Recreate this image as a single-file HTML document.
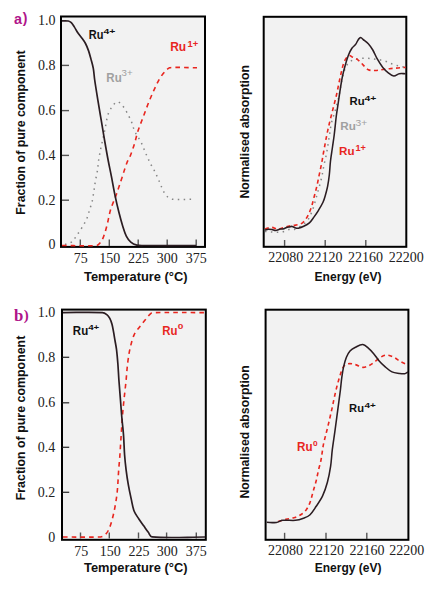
<!DOCTYPE html>
<html><head><meta charset="utf-8"><style>
html,body{margin:0;padding:0;background:#fff;}
svg{display:block;}
.n{font-family:"Liberation Serif",serif;font-size:14px;fill:#222;}
.yt{font-family:"Liberation Sans",sans-serif;font-weight:bold;font-size:12.6px;fill:#111;}
.t{font-family:"Liberation Sans",sans-serif;font-weight:bold;font-size:12.5px;fill:#111;}
.ru{font-family:"Liberation Sans",sans-serif;font-weight:bold;font-size:12.5px;}
.sup{font-size:8.5px;}
.lab{font-family:"Liberation Sans",sans-serif;font-weight:bold;font-size:14.4px;fill:#b0148a;}
.lab2{font-family:"Liberation Serif",serif;font-weight:bold;font-size:16.8px;fill:#b0148a;}
</style></head><body>
<svg width="439" height="590" viewBox="0 0 439 590">
<rect width="439" height="590" fill="#fff"/>
<rect x="61.0" y="16.5" width="144.0" height="230.4" fill="#f2f2f2" stroke="#000" stroke-width="2"/>
<line x1="62.0" y1="65.4" x2="69.0" y2="65.4" stroke="#555" stroke-width="1.4"/>
<line x1="62.0" y1="110.6" x2="69.0" y2="110.6" stroke="#555" stroke-width="1.4"/>
<line x1="62.0" y1="155.4" x2="69.0" y2="155.4" stroke="#555" stroke-width="1.4"/>
<line x1="62.0" y1="200.2" x2="69.0" y2="200.2" stroke="#555" stroke-width="1.4"/>
<line x1="80.3" y1="239.5" x2="80.3" y2="246.0" stroke="#555" stroke-width="1.4"/>
<line x1="109.3" y1="239.5" x2="109.3" y2="246.0" stroke="#555" stroke-width="1.4"/>
<line x1="138.2" y1="239.5" x2="138.2" y2="246.0" stroke="#555" stroke-width="1.4"/>
<line x1="167.2" y1="239.5" x2="167.2" y2="246.0" stroke="#555" stroke-width="1.4"/>
<line x1="196.2" y1="239.5" x2="196.2" y2="246.0" stroke="#555" stroke-width="1.4"/>
<text x="55.5" y="24.8" text-anchor="end" class="n">1.0</text>
<text x="55.5" y="69.7" text-anchor="end" class="n">0.8</text>
<text x="55.5" y="114.9" text-anchor="end" class="n">0.6</text>
<text x="55.5" y="159.7" text-anchor="end" class="n">0.4</text>
<text x="55.5" y="204.5" text-anchor="end" class="n">0.2</text>
<text x="55.5" y="249.4" text-anchor="end" class="n">0</text>
<text x="80.8" y="263.0" text-anchor="middle" class="n">75</text>
<text x="109.7" y="263.0" text-anchor="middle" class="n">150</text>
<text x="138.4" y="263.0" text-anchor="middle" class="n">225</text>
<text x="167.2" y="263.0" text-anchor="middle" class="n">300</text>
<text x="196.2" y="263.0" text-anchor="middle" class="n">375</text>
<text x="135.8" y="281.0" text-anchor="middle" class="t" textLength="103.6" lengthAdjust="spacingAndGlyphs">Temperature (°C)</text>
<text transform="translate(24.9,214.7) rotate(-90)" class="yt" textLength="164.4" lengthAdjust="spacingAndGlyphs">Fraction of pure component</text>
<path d="M65.00,244.60 C67.53,243.53 70.42,243.07 72.60,241.40 C74.32,240.08 74.96,237.77 76.20,236.00 C77.50,234.14 78.97,232.40 80.20,230.50 C81.50,228.50 82.60,226.37 83.80,224.30 C84.70,222.74 85.84,221.28 86.50,219.60 C87.89,216.06 88.75,212.33 89.90,208.70 C90.55,206.66 91.41,204.68 91.90,202.60 C92.68,199.27 93.15,195.88 93.70,192.50 C94.29,188.87 94.68,185.22 95.30,181.60 C95.92,177.98 96.83,174.42 97.40,170.80 C97.97,167.19 98.15,163.52 98.70,159.90 C99.28,156.05 100.05,152.22 100.80,148.40 C101.15,146.59 101.61,144.80 102.00,143.00 C103.11,137.84 104.24,132.68 105.30,127.50 C106.04,123.87 106.50,120.19 107.40,116.60 C107.87,114.74 108.54,112.92 109.40,111.20 C110.35,109.30 111.44,107.44 112.80,105.80 C114.10,104.24 115.29,101.95 117.30,101.70 C119.03,101.48 120.36,103.46 121.60,104.70 C123.10,106.20 124.27,108.01 125.40,109.80 C126.54,111.62 127.41,113.60 128.40,115.50 C129.31,117.23 130.37,118.89 131.10,120.70 C132.51,124.20 133.21,127.98 134.80,131.40 C136.60,135.28 139.30,138.68 141.20,142.50 C143.00,146.12 144.27,149.99 145.90,153.70 C147.44,157.19 148.99,160.69 150.70,164.10 C151.66,166.02 152.93,167.78 153.90,169.70 C155.60,173.08 157.16,176.54 158.70,180.00 C160.36,183.71 161.62,187.60 163.50,191.20 C164.56,193.23 165.80,195.26 167.50,196.80 C168.82,198.00 170.52,199.04 172.30,199.20 C179.44,199.85 186.63,199.20 193.80,199.20" fill="none" stroke="#858585" stroke-width="1.5" stroke-dasharray="1.5,4.4" stroke-linecap="butt"/>
<path d="M62.00,245.50 C73.50,245.50 85.02,246.25 96.50,245.50 C97.93,245.41 99.07,244.09 100.00,243.00 C101.35,241.40 102.42,239.54 103.20,237.60 C104.74,233.74 105.84,229.72 106.90,225.70 C108.34,220.28 109.08,214.67 110.70,209.30 C112.09,204.68 114.28,200.34 115.90,195.80 C118.01,189.87 119.91,183.87 121.90,177.90 C123.64,172.67 125.15,167.36 127.10,162.20 C127.75,160.47 129.01,159.02 129.70,157.30 C131.49,152.84 133.06,148.29 134.50,143.70 C135.76,139.68 136.49,135.51 137.80,131.50 C139.40,126.60 141.39,121.83 143.20,117.00 C145.02,112.13 146.76,107.23 148.70,102.40 C150.43,98.09 152.26,93.82 154.20,89.60 C155.89,85.92 157.52,82.18 159.60,78.70 C161.17,76.09 163.04,73.65 165.10,71.40 C166.40,69.98 167.77,68.38 169.60,67.80 C172.21,66.98 175.06,67.40 177.80,67.40 C184.20,67.40 190.60,67.67 197.00,67.80" fill="none" stroke="#e8261f" stroke-width="1.6" stroke-dasharray="4.6,4.1"/>
<path d="M62.00,20.80 C64.10,20.87 66.24,20.58 68.30,21.00 C69.43,21.23 70.48,21.89 71.30,22.70 C72.53,23.91 73.37,25.45 74.30,26.90 C75.54,28.82 76.51,30.91 77.80,32.80 C79.08,34.68 80.67,36.35 82.00,38.20 C83.24,39.92 84.52,41.62 85.50,43.50 C86.69,45.78 87.65,48.18 88.50,50.60 C89.45,53.32 90.15,56.12 90.90,58.90 C91.75,62.05 92.72,65.19 93.30,68.40 C93.99,72.23 94.14,76.15 94.70,80.00 C95.68,86.78 96.80,93.54 97.90,100.30 C99.00,107.10 100.16,113.90 101.30,120.70 C102.43,127.47 103.53,134.24 104.70,141.00 C105.80,147.34 106.90,153.68 108.10,160.00 C109.14,165.48 110.33,170.93 111.40,176.40 C112.66,182.86 113.75,189.36 115.10,195.80 C116.25,201.29 117.53,206.76 118.90,212.20 C120.04,216.73 121.22,221.24 122.60,225.70 C123.69,229.21 124.65,232.81 126.30,236.10 C127.42,238.34 128.90,240.47 130.80,242.10 C132.50,243.56 134.63,244.58 136.80,245.10 C139.46,245.74 142.26,245.48 145.00,245.50 C162.07,245.61 179.13,245.50 196.20,245.50" fill="none" stroke="#2b1d22" stroke-width="1.7" stroke-linejoin="round"/>
<text x="88.81" y="39.30" font-family='"Liberation Sans",sans-serif' font-weight="bold" font-size="13.17" fill="#111" textLength="14.65" lengthAdjust="spacingAndGlyphs">Ru</text>
<text x="103.42" y="33.80" font-family='"Liberation Sans",sans-serif' font-weight="bold" font-size="7.04" fill="#111" textLength="11.86" lengthAdjust="spacingAndGlyphs">4+</text>
<text x="106.35" y="82.30" font-family='"Liberation Sans",sans-serif' font-weight="bold" font-size="12.48" fill="#a0a0a0" textLength="15.37" lengthAdjust="spacingAndGlyphs">Ru</text>
<text x="121.57" y="76.40" font-family='"Liberation Sans",sans-serif' font-weight="normal" font-size="8.17" fill="#a0a0a0" textLength="11.05" lengthAdjust="spacingAndGlyphs">3+</text>
<text x="170.15" y="50.90" font-family='"Liberation Sans",sans-serif' font-weight="bold" font-size="12.48" fill="#e8261f" textLength="15.97" lengthAdjust="spacingAndGlyphs">Ru</text>
<text x="187.46" y="47.00" font-family='"Liberation Sans",sans-serif' font-weight="bold" font-size="8.45" fill="#e8261f" textLength="10.68" lengthAdjust="spacingAndGlyphs">1+</text>
<text x="14.0" y="24.0" class="lab">a<tspan dx="0.8" dy="-0.9" font-size="14">)</tspan></text>
<rect x="263.7" y="16.8" width="142.6" height="230.0" fill="#f2f2f2" stroke="#000" stroke-width="2"/>
<line x1="284.6" y1="240.0" x2="284.6" y2="246.0" stroke="#555" stroke-width="1.4"/>
<line x1="325.2" y1="240.0" x2="325.2" y2="246.0" stroke="#555" stroke-width="1.4"/>
<line x1="365.8" y1="240.0" x2="365.8" y2="246.0" stroke="#555" stroke-width="1.4"/>
<text x="285.8" y="262.2" text-anchor="middle" class="n">22080</text>
<text x="325.0" y="262.2" text-anchor="middle" class="n">22120</text>
<text x="365.5" y="262.2" text-anchor="middle" class="n">22160</text>
<text x="406.2" y="262.2" text-anchor="middle" class="n">22200</text>
<text x="348.1" y="280.8" text-anchor="middle" class="t" textLength="67.1" lengthAdjust="spacingAndGlyphs">Energy (eV)</text>
<text transform="translate(249.1,198.5) rotate(-90)" class="yt" textLength="133.5" lengthAdjust="spacingAndGlyphs">Normalised absorption</text>
<path d="M265.00,231.50 C267.03,231.63 269.07,231.74 271.10,231.90 C272.47,232.01 273.83,232.35 275.20,232.30 C278.25,232.18 281.31,231.99 284.30,231.40 C285.92,231.08 287.27,229.85 288.90,229.60 C290.39,229.37 291.98,230.51 293.40,230.00 C296.87,228.75 300.00,226.65 303.00,224.50 C304.97,223.09 306.89,221.44 308.20,219.40 C310.21,216.26 311.54,212.71 312.80,209.20 C314.41,204.72 315.52,200.08 316.80,195.50 C318.49,189.45 320.26,183.41 321.70,177.30 C322.66,173.24 323.17,169.09 324.00,165.00 C324.74,161.39 325.73,157.83 326.40,154.20 C327.57,147.82 328.46,141.40 329.50,135.00 C330.16,130.93 330.55,126.81 331.50,122.80 C332.59,118.19 334.34,113.76 335.60,109.20 C336.84,104.73 338.01,100.23 339.00,95.70 C340.14,90.50 340.83,85.20 342.00,80.00 C342.83,76.29 343.59,72.53 345.00,69.00 C345.94,66.64 347.14,64.24 349.00,62.50 C350.78,60.84 353.16,59.85 355.50,59.20 C358.44,58.39 361.55,58.20 364.60,58.20 C368.28,58.20 371.95,58.69 375.60,59.20 C378.66,59.63 381.74,60.12 384.70,61.00 C387.83,61.93 390.68,63.64 393.80,64.60 C397.67,65.78 401.67,66.47 405.60,67.40" fill="none" stroke="#858585" stroke-width="1.5" stroke-dasharray="1.5,4.4" stroke-linecap="butt"/>
<path d="M265.00,229.00 C267.03,228.43 268.99,227.28 271.10,227.30 C273.61,227.32 275.89,229.17 278.40,229.10 C280.94,229.03 283.25,227.56 285.70,226.90 C287.48,226.42 289.29,226.03 291.10,225.70 C292.62,225.43 294.20,225.48 295.70,225.10 C298.02,224.51 300.54,224.17 302.50,222.80 C304.50,221.40 305.87,219.21 307.10,217.10 C308.76,214.24 310.00,211.13 311.10,208.00 C312.27,204.67 313.00,201.21 313.90,197.80 C314.90,194.01 315.91,190.22 316.80,186.40 C317.61,182.92 318.26,179.40 319.00,175.90 C319.76,172.27 320.60,168.65 321.30,165.00 C322.16,160.51 322.88,156.00 323.70,151.50 C324.71,146.00 325.69,140.49 326.80,135.00 C327.63,130.92 328.54,126.85 329.50,122.80 C330.58,118.25 331.76,113.73 332.90,109.20 C334.03,104.70 335.27,100.22 336.30,95.70 C337.74,89.39 338.87,83.01 340.30,76.70 C341.33,72.14 342.30,67.56 343.70,63.10 C344.21,61.46 345.01,59.90 346.00,58.50 C346.83,57.33 347.68,55.75 349.10,55.50 C350.45,55.26 351.58,56.68 352.80,57.30 C354.61,58.21 356.56,58.90 358.20,60.10 C359.93,61.36 361.25,63.12 362.80,64.60 C364.61,66.32 366.03,68.65 368.30,69.70 C370.52,70.72 373.15,70.57 375.60,70.50 C378.66,70.41 381.66,69.57 384.70,69.20 C387.73,68.83 390.76,68.56 393.80,68.30 C397.73,67.96 401.67,67.70 405.60,67.40" fill="none" stroke="#e8261f" stroke-width="1.6" stroke-dasharray="4,3.4"/>
<path d="M265.00,230.00 C266.13,229.77 267.24,229.37 268.40,229.30 C269.60,229.23 270.81,229.40 272.00,229.60 C273.25,229.81 274.43,230.58 275.70,230.50 C277.27,230.40 278.67,229.44 280.20,229.10 C281.41,228.83 282.70,229.00 283.90,228.70 C284.86,228.46 285.67,227.81 286.60,227.50 C287.47,227.21 288.40,227.08 289.30,226.90 C290.23,226.71 291.17,226.24 292.10,226.40 C293.39,226.62 294.44,227.64 295.70,228.00 C296.57,228.25 297.52,228.39 298.40,228.20 C300.24,227.81 302.02,227.13 303.70,226.30 C305.70,225.32 307.74,224.29 309.40,222.80 C311.20,221.18 312.48,219.06 313.90,217.10 C315.51,214.89 317.07,212.63 318.50,210.30 C320.10,207.69 321.72,205.08 323.00,202.30 C324.00,200.13 324.64,197.80 325.30,195.50 C326.17,192.49 327.00,189.47 327.60,186.40 C328.34,182.63 328.86,178.82 329.30,175.00 C329.83,170.35 329.97,165.65 330.50,161.00 C331.04,156.32 331.84,151.67 332.50,147.00 C333.07,143.00 333.71,139.01 334.20,135.00 C334.98,128.68 335.50,122.32 336.30,116.00 C336.87,111.49 337.64,107.00 338.30,102.50 C338.97,97.97 339.58,93.43 340.30,88.90 C340.95,84.82 341.56,80.74 342.40,76.70 C343.16,73.04 344.09,69.40 345.10,65.80 C346.12,62.17 347.14,58.52 348.50,55.00 C349.41,52.64 350.48,50.30 351.90,48.20 C352.85,46.79 354.46,45.94 355.50,44.60 C357.20,42.42 357.69,39.05 360.10,37.70 C361.34,37.00 362.55,39.16 363.70,40.00 C365.29,41.16 366.98,42.24 368.30,43.70 C370.04,45.61 371.49,47.77 372.80,50.00 C374.54,52.96 375.69,56.23 377.40,59.20 C379.03,62.04 380.75,64.85 382.80,67.40 C384.41,69.40 386.27,71.23 388.30,72.80 C389.97,74.09 391.70,75.73 393.80,75.90 C395.74,76.06 397.29,74.06 399.20,73.70 C401.30,73.31 403.47,73.70 405.60,73.70" fill="none" stroke="#2b1d22" stroke-width="1.55" stroke-linejoin="round"/>
<text x="349.56" y="105.20" font-family='"Liberation Sans",sans-serif' font-weight="bold" font-size="10.70" fill="#111" textLength="15.08" lengthAdjust="spacingAndGlyphs">Ru</text>
<text x="364.43" y="100.70" font-family='"Liberation Sans",sans-serif' font-weight="bold" font-size="6.76" fill="#111" textLength="11.84" lengthAdjust="spacingAndGlyphs">4+</text>
<text x="340.22" y="129.80" font-family='"Liberation Sans",sans-serif' font-weight="bold" font-size="11.39" fill="#a0a0a0" textLength="15.55" lengthAdjust="spacingAndGlyphs">Ru</text>
<text x="355.47" y="125.60" font-family='"Liberation Sans",sans-serif' font-weight="normal" font-size="8.31" fill="#a0a0a0" textLength="11.66" lengthAdjust="spacingAndGlyphs">3+</text>
<text x="339.12" y="155.30" font-family='"Liberation Sans",sans-serif' font-weight="bold" font-size="11.39" fill="#e8261f" textLength="15.45" lengthAdjust="spacingAndGlyphs">Ru</text>
<text x="355.45" y="150.60" font-family='"Liberation Sans",sans-serif' font-weight="bold" font-size="8.73" fill="#e8261f" textLength="10.50" lengthAdjust="spacingAndGlyphs">1+</text>
<rect x="62.0" y="309.6" width="143.8" height="230.2" fill="#f2f2f2" stroke="#000" stroke-width="2"/>
<line x1="62.5" y1="357.3" x2="69.2" y2="357.3" stroke="#333" stroke-width="1.3"/>
<line x1="62.5" y1="402.8" x2="69.2" y2="402.8" stroke="#333" stroke-width="1.3"/>
<line x1="62.5" y1="447.3" x2="69.2" y2="447.3" stroke="#333" stroke-width="1.3"/>
<line x1="62.5" y1="492.3" x2="69.2" y2="492.3" stroke="#333" stroke-width="1.3"/>
<line x1="80.5" y1="532.5" x2="80.5" y2="538.5" stroke="#555" stroke-width="1.4"/>
<line x1="109.3" y1="532.5" x2="109.3" y2="538.5" stroke="#555" stroke-width="1.4"/>
<line x1="138.5" y1="532.5" x2="138.5" y2="538.5" stroke="#555" stroke-width="1.4"/>
<line x1="166.6" y1="532.5" x2="166.6" y2="538.5" stroke="#555" stroke-width="1.4"/>
<line x1="196.3" y1="532.5" x2="196.3" y2="538.5" stroke="#555" stroke-width="1.4"/>
<text x="55.2" y="317.1" text-anchor="end" class="n">1.0</text>
<text x="55.2" y="361.9" text-anchor="end" class="n">0.8</text>
<text x="55.2" y="407.4" text-anchor="end" class="n">0.6</text>
<text x="55.2" y="451.9" text-anchor="end" class="n">0.4</text>
<text x="55.2" y="496.9" text-anchor="end" class="n">0.2</text>
<text x="55.2" y="541.6" text-anchor="end" class="n">0</text>
<text x="81.3" y="555.5" text-anchor="middle" class="n">75</text>
<text x="110.2" y="555.5" text-anchor="middle" class="n">150</text>
<text x="139.0" y="555.5" text-anchor="middle" class="n">225</text>
<text x="167.2" y="555.5" text-anchor="middle" class="n">300</text>
<text x="196.3" y="555.5" text-anchor="middle" class="n">375</text>
<text x="135.8" y="571.9" text-anchor="middle" class="t" textLength="103.6" lengthAdjust="spacingAndGlyphs">Temperature (°C)</text>
<text transform="translate(24.8,500.3) rotate(-90)" class="yt" textLength="164.6" lengthAdjust="spacingAndGlyphs">Fraction of pure component</text>
<path d="M63.00,537.00 C74.67,537.00 86.34,537.37 98.00,537.00 C100.01,536.94 102.20,536.77 103.90,535.70 C105.82,534.49 107.25,532.52 108.30,530.50 C110.00,527.23 111.00,523.64 112.00,520.10 C113.24,515.73 114.17,511.27 115.00,506.80 C115.91,501.90 116.70,496.96 117.20,492.00 C117.94,484.62 118.16,477.20 118.70,469.80 C119.02,465.36 119.48,460.94 119.80,456.50 C120.32,449.24 120.72,441.97 121.20,434.70 C121.65,427.87 122.06,421.03 122.60,414.20 C122.96,409.63 123.43,405.06 123.90,400.50 C124.56,394.13 125.36,387.77 126.00,381.40 C126.33,378.14 126.48,374.86 126.80,371.60 C127.24,367.16 127.65,362.71 128.30,358.30 C128.88,354.34 129.53,350.38 130.50,346.50 C131.50,342.47 132.46,338.37 134.20,334.60 C135.46,331.86 137.59,329.61 139.40,327.20 C141.29,324.68 143.27,322.21 145.30,319.80 C147.23,317.51 148.84,314.81 151.30,313.10 C152.51,312.26 154.22,312.61 155.70,312.60 C172.23,312.45 188.77,312.60 205.30,312.60" fill="none" stroke="#e8261f" stroke-width="1.6" stroke-dasharray="4.6,4.1"/>
<path d="M63.00,312.60 C76.13,312.60 89.28,312.00 102.40,312.60 C104.01,312.67 105.52,313.62 106.80,314.60 C108.06,315.57 109.04,316.90 109.80,318.30 C110.80,320.15 111.44,322.18 112.00,324.20 C112.68,326.66 113.04,329.19 113.50,331.70 C114.04,334.63 114.50,337.57 115.00,340.50 C115.50,343.47 116.13,346.41 116.50,349.40 C117.10,354.32 117.51,359.26 117.90,364.20 C118.31,369.46 118.52,374.74 118.90,380.00 C119.39,386.84 119.96,393.67 120.50,400.50 C120.96,406.43 121.38,412.37 121.90,418.30 C122.38,423.77 123.10,429.22 123.50,434.70 C124.00,441.46 124.10,448.24 124.60,455.00 C124.97,459.95 125.48,464.88 126.10,469.80 C126.72,474.75 127.44,479.69 128.30,484.60 C129.17,489.56 130.21,494.48 131.30,499.40 C132.18,503.39 132.74,507.49 134.20,511.30 C135.23,514.00 137.12,516.29 138.70,518.70 C140.35,521.22 142.16,523.64 143.90,526.10 C145.36,528.17 146.78,530.27 148.30,532.30 C149.48,533.87 150.04,536.74 152.00,536.90 C169.71,538.36 187.53,536.97 205.30,537.00" fill="none" stroke="#2b1d22" stroke-width="1.7" stroke-linejoin="round"/>
<text x="72.87" y="334.90" font-family='"Liberation Sans",sans-serif' font-weight="bold" font-size="12.21" fill="#111" textLength="15.34" lengthAdjust="spacingAndGlyphs">Ru</text>
<text x="88.22" y="329.80" font-family='"Liberation Sans",sans-serif' font-weight="bold" font-size="7.04" fill="#111" textLength="11.06" lengthAdjust="spacingAndGlyphs">4+</text>
<text x="162.28" y="334.70" font-family='"Liberation Sans",sans-serif' font-weight="bold" font-size="11.93" fill="#e8261f" textLength="15.21" lengthAdjust="spacingAndGlyphs">Ru</text>
<text x="177.89" y="329.40" font-family='"Liberation Sans",sans-serif' font-weight="bold" font-size="7.75" fill="#e8261f" textLength="5.62" lengthAdjust="spacingAndGlyphs">0</text>
<text x="13.9" y="320.9" class="lab2">b<tspan dx="0.6" dy="-0.6" font-size="15">)</tspan></text>
<rect x="265.6" y="309.7" width="142.8" height="230.1" fill="#f2f2f2" stroke="#000" stroke-width="2"/>
<line x1="284.6" y1="532.8" x2="284.6" y2="539.0" stroke="#555" stroke-width="1.4"/>
<line x1="326.0" y1="532.8" x2="326.0" y2="539.0" stroke="#555" stroke-width="1.4"/>
<line x1="366.8" y1="532.8" x2="366.8" y2="539.0" stroke="#555" stroke-width="1.4"/>
<text x="285.5" y="555.2" text-anchor="middle" class="n">22080</text>
<text x="326.5" y="555.2" text-anchor="middle" class="n">22120</text>
<text x="367.0" y="555.2" text-anchor="middle" class="n">22160</text>
<text x="406.8" y="555.2" text-anchor="middle" class="n">22200</text>
<text x="348.1" y="571.9" text-anchor="middle" class="t" textLength="66.7" lengthAdjust="spacingAndGlyphs">Energy (eV)</text>
<text transform="translate(249.1,498.5) rotate(-90)" class="yt" textLength="133.3" lengthAdjust="spacingAndGlyphs">Normalised absorption</text>
<path d="M278.00,521.40 C280.63,520.70 283.25,519.92 285.90,519.30 C288.55,518.68 291.29,518.48 293.90,517.70 C296.12,517.04 298.34,516.23 300.30,515.00 C302.38,513.70 304.37,512.12 305.90,510.20 C307.58,508.09 308.82,505.62 309.80,503.10 C311.20,499.48 311.93,495.63 313.00,491.90 C314.07,488.17 315.25,484.47 316.20,480.70 C317.12,477.03 317.74,473.29 318.60,469.60 C319.35,466.39 320.38,463.24 321.00,460.00 C322.01,454.76 322.44,449.43 323.50,444.20 C324.61,438.75 326.21,433.41 327.50,428.00 C328.91,422.11 330.28,416.21 331.60,410.30 C333.01,404.01 334.18,397.67 335.70,391.40 C336.98,386.09 338.34,380.80 340.00,375.60 C341.01,372.45 341.82,369.12 343.70,366.40 C344.69,364.96 346.47,363.96 348.20,363.70 C350.62,363.33 353.12,364.00 355.50,364.60 C358.03,365.24 360.20,367.23 362.80,367.40 C365.02,367.55 367.18,366.44 369.20,365.50 C371.16,364.59 372.84,363.16 374.60,361.90 C376.78,360.33 378.67,358.33 381.00,357.00 C382.68,356.04 384.56,355.05 386.50,355.10 C389.04,355.16 391.50,356.23 393.80,357.30 C396.41,358.51 398.57,360.53 401.10,361.90 C403.32,363.10 405.70,363.97 408.00,365.00" fill="none" stroke="#e8261f" stroke-width="1.6" stroke-dasharray="4,3.4"/>
<path d="M266.80,522.20 C270.00,522.30 273.22,522.88 276.40,522.50 C278.61,522.24 280.49,520.55 282.70,520.30 C286.94,519.81 291.25,520.73 295.50,520.30 C298.24,520.02 300.91,519.16 303.50,518.20 C305.71,517.38 308.08,516.61 309.80,515.00 C312.43,512.54 314.20,509.29 316.20,506.30 C318.47,502.92 320.88,499.59 322.60,495.90 C324.63,491.54 326.14,486.94 327.40,482.30 C328.81,477.08 329.80,471.75 330.60,466.40 C331.43,460.87 331.62,455.25 332.30,449.70 C333.08,443.35 334.13,437.04 335.00,430.70 C335.93,423.90 336.80,417.10 337.70,410.30 C338.60,403.53 339.56,396.77 340.40,390.00 C340.92,385.81 341.21,381.59 341.80,377.40 C342.32,373.71 342.87,370.03 343.70,366.40 C344.41,363.32 345.20,360.23 346.40,357.30 C347.32,355.06 348.37,352.79 350.00,351.00 C351.49,349.37 353.52,348.29 355.50,347.30 C357.82,346.14 360.21,344.42 362.80,344.60 C364.99,344.75 366.62,346.80 368.30,348.20 C370.27,349.85 372.03,351.74 373.70,353.70 C375.68,356.02 377.21,358.70 379.20,361.00 C380.88,362.94 382.74,364.73 384.70,366.40 C387.02,368.38 389.26,370.58 392.00,371.90 C394.21,372.97 396.77,373.06 399.20,373.40 C401.02,373.66 402.89,373.99 404.70,373.70 C405.92,373.51 406.90,372.57 408.00,372.00" fill="none" stroke="#2b1d22" stroke-width="1.55" stroke-linejoin="round"/>
<text x="349.13" y="412.00" font-family='"Liberation Sans",sans-serif' font-weight="bold" font-size="11.11" fill="#111" textLength="14.92" lengthAdjust="spacingAndGlyphs">Ru</text>
<text x="364.60" y="407.60" font-family='"Liberation Sans",sans-serif' font-weight="bold" font-size="7.61" fill="#111" textLength="11.31" lengthAdjust="spacingAndGlyphs">4+</text>
<text x="296.97" y="451.20" font-family='"Liberation Sans",sans-serif' font-weight="bold" font-size="12.21" fill="#e8261f" textLength="15.54" lengthAdjust="spacingAndGlyphs">Ru</text>
<text x="312.92" y="445.80" font-family='"Liberation Sans",sans-serif' font-weight="bold" font-size="6.90" fill="#e8261f" textLength="4.65" lengthAdjust="spacingAndGlyphs">0</text>
</svg>
</body></html>
